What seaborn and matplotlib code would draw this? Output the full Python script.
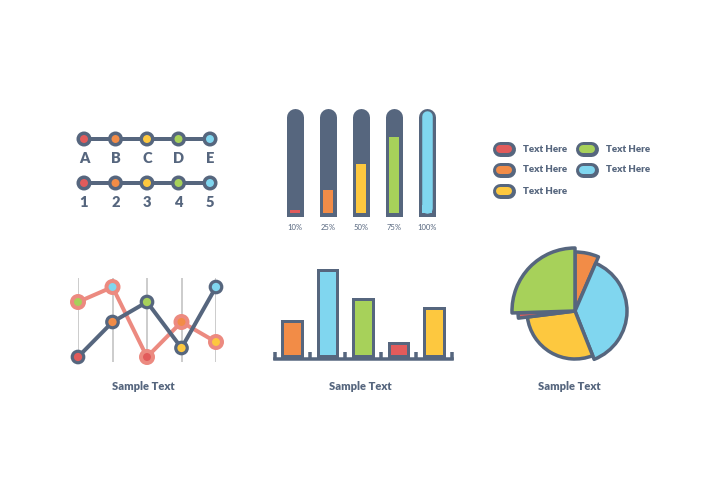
import matplotlib
matplotlib.use("Agg")
import matplotlib.pyplot as plt
import numpy as np
import seaborn as sns

# colours
DARK = "#56667e"
RED = "#e25b5b"
ORANGE = "#f28c47"
YELLOW = "#fdc83f"
GREEN = "#a7d15a"
BLUE = "#80d6ef"
SALMON = "#ec8a80"
GRAY = "#bdbdbd"

# data
letters = ["A", "B", "C", "D", "E"]
numbers = ["1", "2", "3", "4", "5"]
dot_colors = [RED, ORANGE, YELLOW, GREEN, BLUE]

progress_labels = ["10%", "25%", "50%", "75%", "100%"]
progress_fill = [3, 23, 49, 76, 100]
progress_colors = [RED, ORANGE, YELLOW, GREEN, BLUE]

legend_labels = ["Text Here", "Text Here", "Text Here", "Text Here", "Text Here"]
legend_colors = [RED, ORANGE, YELLOW, GREEN, BLUE]

line_dark = [13, 48, 68, 22, 83]
line_dark_colors = [RED, ORANGE, GREEN, YELLOW, BLUE]
line_salmon = [68, 83, 13, 48, 28]
line_salmon_colors = [GREEN, BLUE, RED, ORANGE, YELLOW]

bar_cats = ["a", "b", "c", "d", "e"]
bar_values = [35, 86, 57, 13, 48]
bar_colors = [ORANGE, BLUE, GREEN, RED, YELLOW]

pie_shares = [6.5, 37.5, 29, 1.5, 25.5]
pie_radii = [59, 52, 48, 57, 63]
pie_colors = [ORANGE, BLUE, YELLOW, RED, GREEN]

caption = "Sample Text"

W, H, DPI = 720, 504, 100

sns.set_style("white")
plt.rcParams["font.family"] = ["Lato", "DejaVu Sans"]

fig = plt.figure(figsize=(W / DPI, H / DPI), dpi=DPI, facecolor="white")


def pt(px):
    # pixels -> points
    return px * 72 / DPI


def box(x0, y0, x1, y1, **kw):
    # axes from a pixel box (top-left origin)
    ax = fig.add_axes([x0 / W, 1 - y1 / H, (x1 - x0) / W, (y1 - y0) / H], **kw)
    ax.set_axis_off()
    return ax


# 1. dot rows with labels
ax1 = box(84, 139, 210, 183)
ax1.set_xlim(0, 4)
ax1.set_ylim(0, 1)
xs = np.arange(5)
for row_y, labels in [(1, letters), (0, numbers)]:
    ax1.plot(xs, [row_y] * 5, color=DARK, lw=pt(4), zorder=1, clip_on=False)
    ax1.scatter(xs, [row_y] * 5, s=pt(11.5) ** 2, c=dot_colors, edgecolors=DARK,
                linewidths=pt(3.5), zorder=2, clip_on=False)
    for xi, lab in zip(xs, labels):
        ax1.annotate(lab, (xi, row_y), xytext=(0, -pt(19.5)), textcoords="offset points",
                     ha="center", va="center", fontsize=10.5, fontweight="heavy", color=DARK)

# 2. progress columns
ax2 = box(278.5, 107, 443.5, 217)
ax2.set_xlim(-0.5, 4.5)
ax2.set_ylim(-4, 106)
outer_w = 17 / 33
inner_w = 10.5 / 33
for xi, v, c, lab in zip(xs, progress_fill, progress_colors, progress_labels):
    ax2.bar(xi, 14, bottom=-3.5, width=outer_w, color=DARK, linewidth=0, zorder=1)
    ax2.plot([xi, xi], [5, 96.5], color=DARK, lw=pt(17), solid_capstyle="round", zorder=1)
    if v >= 100:
        ax2.plot([xi, xi], [5.25, 97.5], color=c, lw=pt(10.5), solid_capstyle="round", zorder=2)
        ax2.bar(xi, 8, bottom=0, width=inner_w, color=c, linewidth=0, zorder=2)
    else:
        ax2.bar(xi, v, bottom=0, width=inner_w, color=c, linewidth=0, zorder=2)
    ax2.text(xi, -14, lab, ha="center", va="center", fontsize=5.5, color=DARK)

# 3. legend pills
ax3 = box(504, 149, 587, 191)
ax3.set_xlim(0, 1)
ax3.set_ylim(2, 0)
half = 4 / 83
for i, (lab, c) in enumerate(zip(legend_labels, legend_colors)):
    col, row = i // 3, i % 3
    ax3.plot([col - half, col + half], [row, row], color=DARK, lw=pt(15),
             solid_capstyle="round", clip_on=False)
    ax3.plot([col - half, col + half], [row, row], color=c, lw=pt(8),
             solid_capstyle="round", clip_on=False)
    ax3.text(col + 19 / 83, row, lab, ha="left", va="center", fontsize=7,
             fontweight="heavy", color=DARK)

# 4. line chart
ax4 = box(78, 270, 216, 370)
ax4.set_xlim(0, 4)
ax4.set_ylim(0, 100)
ax4.vlines(xs, 8, 92, color=GRAY, lw=pt(1.5), zorder=0)
sns.lineplot(x=xs, y=line_salmon, color=SALMON, lw=pt(4), ax=ax4, zorder=1)
ax4.scatter(xs, line_salmon, s=pt(12) ** 2, c=line_salmon_colors, edgecolors=SALMON,
            linewidths=pt(4), zorder=2, clip_on=False)
sns.lineplot(x=xs, y=line_dark, color=DARK, lw=pt(4), ax=ax4, zorder=3)
ax4.scatter(xs, line_dark, s=pt(11.5) ** 2, c=line_dark_colors, edgecolors=DARK,
            linewidths=pt(3.2), zorder=4, clip_on=False)
ax4.set_axis_off()

# 5. bar chart
ax5 = box(274.5, 256, 451.5, 366)
sns.barplot(x=bar_cats, y=bar_values, hue=bar_cats, palette=bar_colors, width=0.55,
            saturation=1, edgecolor=DARK, linewidth=pt(3), legend=False, ax=ax5)
ax5.set_xlim(-0.5, 4.5)
ax5.set_ylim(-10, 100)
ax5.plot([-0.5, 4.5], [-2.5, -2.5], color=DARK, lw=pt(3.5), solid_capstyle="projecting",
         clip_on=False)
for t in np.arange(-0.5, 5, 1):
    ax5.plot([t, t], [-4, 4], color=DARK, lw=pt(3.5), solid_capstyle="butt", clip_on=False)
ax5.set_axis_off()

# 6. pie (rose style)
ax6 = box(509, 245, 641, 377, projection="polar")
ax6.set_theta_zero_location("N")
ax6.set_theta_direction(-1)
widths = np.array(pie_shares) / 100 * 2 * np.pi
starts = np.cumsum(widths) - widths
wedges = ax6.bar(starts, pie_radii, width=widths, align="edge", color=pie_colors,
                 edgecolor=DARK, linewidth=pt(3.5))
for p in wedges:
    p.set_joinstyle("round")
ax6.set_ylim(0, 66)
ax6.set_axis_off()

# captions
for cx in [143, 360, 569]:
    fig.text(cx / W, 1 - 387 / H, caption, ha="center", va="center", fontsize=8,
             fontweight="heavy", color=DARK)

fig.savefig("out.png", dpi=DPI, facecolor="white")
